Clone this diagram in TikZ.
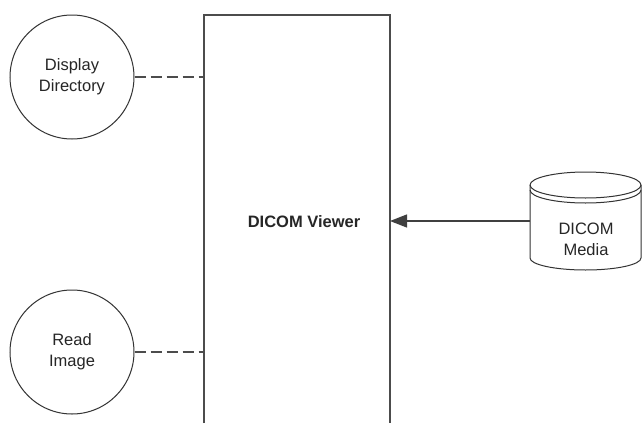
\documentclass[tikz,border=0pt]{standalone}
\usepackage{fontspec}
\setmainfont{Liberation Sans}
\usetikzlibrary{arrows.meta}
\begin{document}
\begin{tikzpicture}[x=1pt,y=-1pt,
  lbl/.style={font=\fontsize{16.5}{21}\selectfont, text=black!85, align=center},
  proc/.style={circle, draw=black!80, line width=1pt, minimum size=124pt, inner sep=0pt},
  dashlink/.style={draw=black!70, line width=1.6pt, dash pattern=on 11pt off 5pt},
  flow/.style={draw=black!75, line width=1.3pt, -{Triangle[length=17pt,width=13pt]}}]
\useasboundingbox (0,0) rectangle (642,423);
\fill[white] (0,0) rectangle (642,423);
% viewer box (open at the bottom)
\draw[black!70, line width=1.3pt] (204,423) -- (204,15) -- (390,15) -- (390,423);
\node[lbl, font=\fontsize{16.5}{21}\selectfont\bfseries] (viewer) at (304,222) {DICOM Viewer};
\coordinate (boxtop) at (204,77);
\coordinate (boxbot) at (204,352);
\coordinate (boxright) at (390,221);
% processes
\node[proc, lbl] (disp) at (72,77) {Display\\Directory};
\node[proc, lbl] (read) at (72,352) {Read\\Image};
\draw[dashlink] (disp.east) -- (boxtop);
\draw[dashlink] (read.east) -- (boxbot);
% data store cylinder
\coordinate (media) at (530,221);
\draw[black!80, line width=1pt, fill=white]
  (530,185) -- (530,258) arc[start angle=180, end angle=0, x radius=55.5, y radius=12]
  -- (641,185) arc[start angle=0, end angle=-180, x radius=55.5, y radius=13] -- cycle;
\draw[black!80, line width=1pt] (530,185) arc[start angle=180, end angle=0, x radius=55.5, y radius=13];
\draw[black!80, line width=1pt] (530,190) arc[start angle=180, end angle=0, x radius=55.5, y radius=13];
\node[lbl] (medialbl) at (586,239) {DICOM\\Media};
\draw[flow] (media) -- (boxright);
\end{tikzpicture}
\end{document}
